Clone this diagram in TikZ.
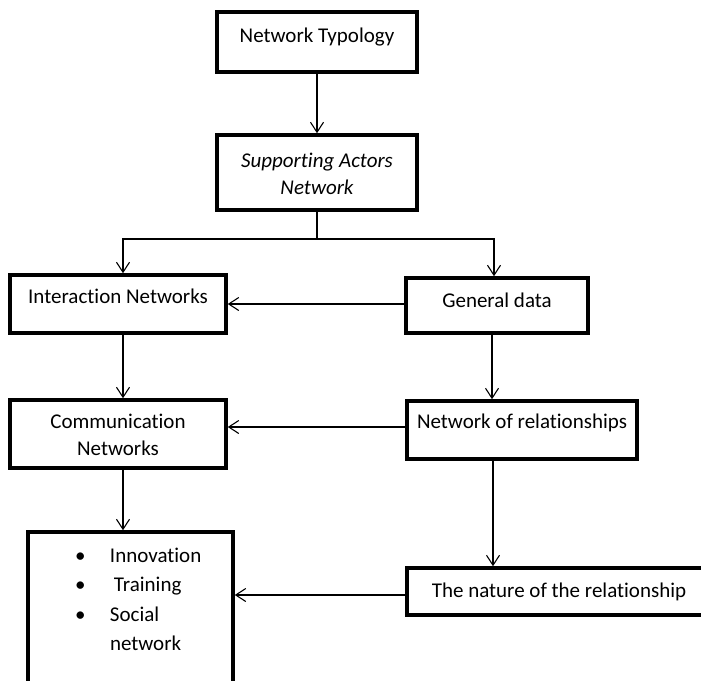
\documentclass[tikz,border=0pt]{standalone}
\usepackage{fontspec}
\setmainfont{Carlito}[Ligatures={NoCommon}]
\usetikzlibrary{arrows.meta,calc}
\begin{document}
\begin{tikzpicture}[x=1pt,y=-1pt,
  box/.style={draw, line width=3.5pt, inner sep=0pt, outer sep=0pt, anchor=north west,
              font=\fontsize{21}{27}\selectfont},
  arr/.style={-{Straight Barb[length=10pt,width=13pt]}, line width=1.1pt, shorten >=1.75pt},
  ln/.style={line width=1.1pt}]
\useasboundingbox (0,0) rectangle (701,680);
\clip (0,0) rectangle (701,680);
% boxes
\node[box, minimum width=200pt, text height=30pt, text depth=30pt] (NT) at (217,12) {Network Typology};
\node[box, minimum width=200pt, text height=32pt, text depth=43pt] (SAN) at (217,135)
  {\parbox[t]{190pt}{\centering\itshape Supporting Actors\\Network}};
\node[box, minimum width=216pt, text height=28pt, text depth=30pt] (IN) at (10,275) {Interaction Networks};
\node[box, minimum width=182pt, text height=29pt, text depth=26pt] (GD) at (406,278) {General data};
\node[box, minimum width=216pt, text height=28pt, text depth=40pt] (CN) at (10,400)
  {\parbox[t]{200pt}{\centering Communication\\Networks}};
\node[box, minimum width=230pt, text height=27pt, text depth=31pt] (NoR) at (407,401) {Network of relationships};
\node[box, minimum width=205pt, text height=30pt, text depth=138pt] (BL) at (28,532)
  {\parbox[t]{205pt}{\fontsize{21}{29.5}\selectfont\raggedright
   \hspace*{47pt}\makebox[35pt][l]{•}Innovation\\
   \hspace*{47pt}\makebox[35pt][l]{•}\hspace{4pt}Training\\
   \hspace*{47pt}\makebox[35pt][l]{•}Social\\
   \hspace*{82pt}network}};
\node[box, minimum width=304pt, text height=29pt, text depth=18pt] (NR) at (407,568) {The nature of the relationship};
% connectors
\draw[arr] (NT.south) -- (SAN.north);
\draw[ln] (SAN.south) -- ++(0,29) coordinate (j);
\draw[arr] (j) -| ($(IN.north)+(5,0)$);
\draw[arr] (j) -| ($(GD.north)+(-3,0)$);
\coordinate (gdw) at ($(GD.west)+(0,-1.5)$);
\draw[arr] (gdw) -- (gdw -| IN.east);
\coordinate (ins) at ($(IN.south)+(5,0)$);
\draw[arr] (ins) -- (ins |- CN.north);
\coordinate (gds) at ($(GD.south)+(-5,0)$);
\draw[arr] (gds) -- (gds |- NoR.north);
\coordinate (nrw) at ($(NoR.west)+(0,-3)$);
\draw[arr] (nrw) -- (nrw -| CN.east);
\coordinate (cns) at ($(CN.south)+(5,0)$);
\draw[arr] (cns) -- (cns |- BL.north);
\coordinate (nrs) at ($(NoR.south)+(-29,0)$);
\draw[arr] (nrs) -- (nrs |- NR.north);
\coordinate (ntw) at ($(NR.west)+(0,3.5)$);
\draw[arr] (ntw) -- (ntw -| BL.east);
\end{tikzpicture}
\end{document}
